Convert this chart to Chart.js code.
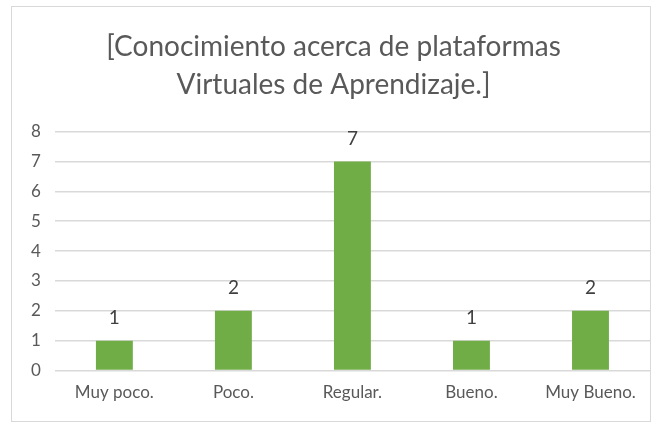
<!DOCTYPE html>
<html>
<head>
<meta charset="utf-8">
<script src="https://cdn.jsdelivr.net/npm/chart.js@4"></script>
<style>
    html, body { margin: 0; padding: 0; background: #fff; }
    #wrap { position: relative; width: 656px; height: 425px; }
    #frame { position: absolute; left: 11px; top: 6px; width: 640px; height: 416px; border: 1px solid #d9d9d9; box-sizing: border-box; pointer-events: none; }
    canvas { position: absolute; left: 0; top: 0; }
</style>
</head>
<body>
<div id="wrap">
    <canvas id="chart" width="656" height="425"></canvas>
    <div id="frame"></div>
</div>
<script>
const categories = ['Muy poco.', 'Poco.', 'Regular.', 'Bueno.', 'Muy Bueno.'];
const values = [1, 2, 7, 1, 2];
const titleLines = ['[Conocimiento acerca de plataformas', 'Virtuales de Aprendizaje.]'];

const textGray = '#595959';
const fontFamily = 'Lato, "Open Sans", sans-serif';

const valueLabels = {
    id: 'valueLabels',
    afterDatasetsDraw(chart) {
        const { ctx } = chart;
        const meta = chart.getDatasetMeta(0);
        ctx.save();
        ctx.fillStyle = '#404040';
        ctx.font = `19px ${fontFamily}`;
        ctx.textAlign = 'center';
        ctx.textBaseline = 'middle';
        meta.data.forEach((bar, i) => {
            ctx.fillText(String(values[i]), bar.x, bar.y - 23);
        });
        ctx.restore();
    }
};

new Chart(document.getElementById('chart'), {
    type: 'bar',
    data: {
        labels: categories,
        datasets: [{
            data: values,
            backgroundColor: '#70ad47',
            categoryPercentage: 1,
            barPercentage: 0.31
        }]
    },
    options: {
        responsive: false,
        animation: false,
        layout: { padding: { left: 17, right: 6, top: 14, bottom: 10 } },
        plugins: {
            legend: { display: false },
            tooltip: { enabled: false },
            title: {
                display: true,
                text: titleLines,
                color: textGray,
                font: { family: fontFamily, size: 28, weight: 'normal', lineHeight: 1.35 },
                padding: { top: 14, bottom: 28 }
            }
        },
        scales: {
            x: {
                grid: { display: false, drawTicks: false },
                border: { display: false },
                ticks: { color: textGray, font: { family: fontFamily, size: 17 }, padding: 12 }
            },
            y: {
                min: 0,
                max: 8,
                ticks: { stepSize: 1, color: textGray, font: { family: fontFamily, size: 17 }, padding: 14 },
                grid: { color: '#d9d9d9', lineWidth: 1.5, drawTicks: false },
                border: { display: false }
            }
        }
    },
    plugins: [valueLabels]
});
</script>
</body>
</html>
